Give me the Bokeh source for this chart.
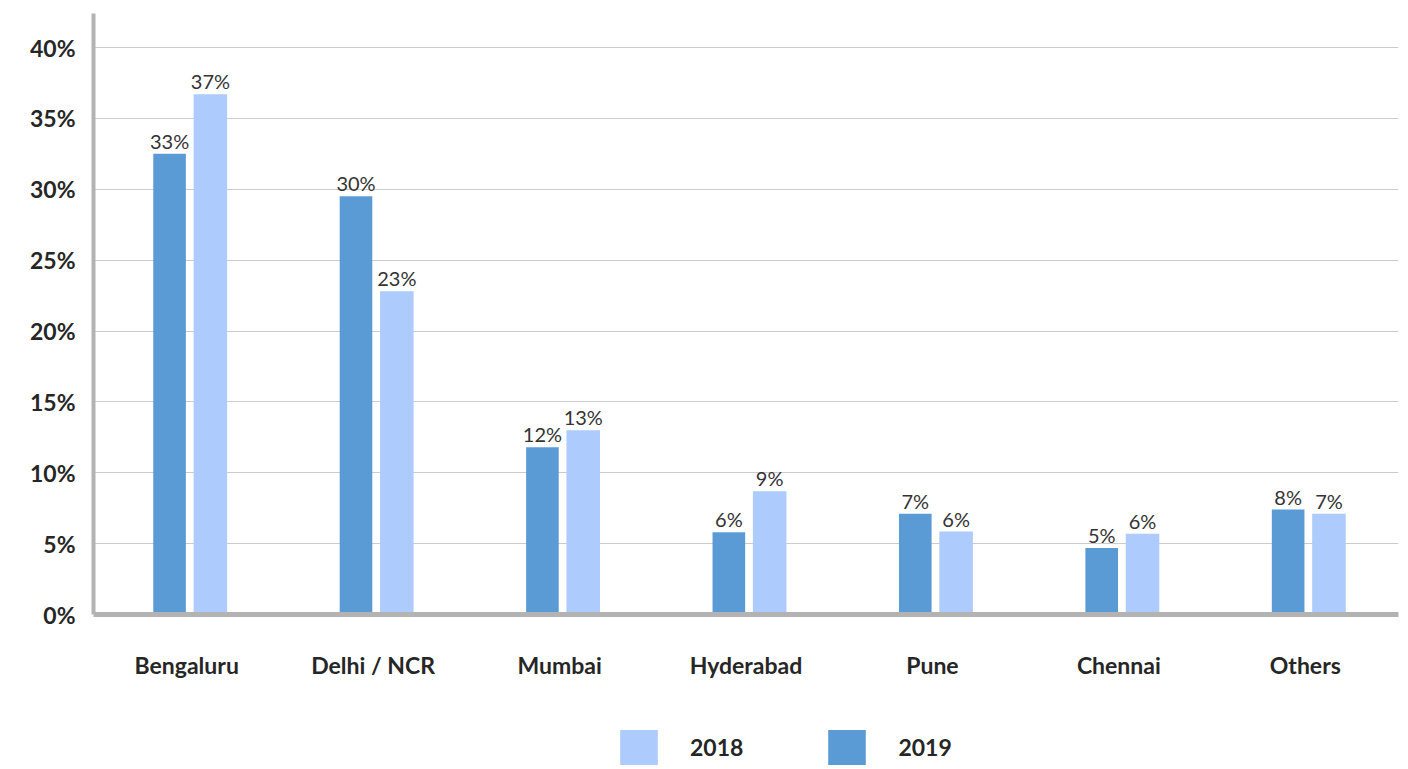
from bokeh.plotting import figure
from bokeh.layouts import column
from bokeh.models import ColumnDataSource, FactorRange, Legend, LegendItem, FixedTicker, CustomJSTickFormatter
from bokeh.transform import dodge
from bokeh.core.properties import value
from bokeh.embed import file_html
from bokeh.resources import INLINE

cities = ["Bengaluru", "Delhi / NCR", "Mumbai", "Hyderabad", "Pune", "Chennai", "Others"]
v2019 = [32.5, 29.5, 11.8, 5.8, 7.1, 4.7, 7.4]
v2018 = [36.7, 22.8, 13.0, 8.7, 5.85, 5.7, 7.1]
lab2019 = ["33%", "30%", "12%", "6%", "7%", "5%", "8%"]
lab2018 = ["37%", "23%", "13%", "9%", "6%", "6%", "7%"]
yticks = [0, 5, 10, 15, 20, 25, 30, 35, 40]
series = ["2018", "2019"]

src = ColumnDataSource(dict(city=cities, v2019=v2019, v2018=v2018, l2019=lab2019, l2018=lab2018))

C19 = "#5B9BD5"
C18 = "#ADCBFD"
FONT = "Lato"

p = figure(x_range=FactorRange(*cities, range_padding=0), y_range=(0, 42.4),
           frame_width=1305, frame_height=601, output_backend="svg", toolbar_location=None,
           min_border_left=93, min_border_top=13, min_border_right=10, min_border_bottom=111)
p.outline_line_color = None

r19 = p.vbar(x=dodge("city", -0.092, range=p.x_range), top="v2019", width=0.175, source=src,
             fill_color=C19, line_color=None)
r18 = p.vbar(x=dodge("city", 0.127, range=p.x_range), top="v2018", width=0.18, source=src,
             fill_color=C18, line_color=None)

p.text(x=dodge("city", -0.092, range=p.x_range), y="v2019", text="l2019", source=src,
       text_align="center", text_baseline="bottom", y_offset=-1,
       text_font=value(FONT), text_font_size="20px", text_color="#333333")
p.text(x=dodge("city", 0.127, range=p.x_range), y="v2018", text="l2018", source=src,
       text_align="center", text_baseline="bottom", y_offset=-1,
       text_font=value(FONT), text_font_size="20px", text_color="#333333")

p.yaxis.ticker = FixedTicker(ticks=yticks)
p.yaxis.formatter = CustomJSTickFormatter(code="return tick + '%';")
p.yaxis.axis_line_color = "#B3B3B3"
p.yaxis.axis_line_width = 4
p.yaxis.major_tick_line_color = None
p.yaxis.minor_tick_line_color = None
p.yaxis.major_tick_out = 0
p.yaxis.major_tick_in = 0
p.yaxis.major_label_text_font = FONT
p.yaxis.major_label_text_font_size = "23px"
p.yaxis.major_label_text_font_style = "bold"
p.yaxis.major_label_text_color = "#262626"
p.yaxis.major_label_standoff = 18

p.xaxis.axis_line_color = "#B3B3B3"
p.xaxis.axis_line_width = 5
p.xaxis.major_tick_line_color = None
p.xaxis.minor_tick_line_color = None
p.xaxis.major_tick_out = 0
p.xaxis.major_tick_in = 0
p.xaxis.major_label_text_font = FONT
p.xaxis.major_label_text_font_size = "23px"
p.xaxis.major_label_text_font_style = "bold"
p.xaxis.major_label_text_color = "#262626"
p.xaxis.major_label_standoff = 36

p.xgrid.grid_line_color = None
p.ygrid.grid_line_color = "#CCCCCC"
p.ygrid.grid_line_width = 1

# legend strip below the chart (proxy glyphs sit outside the visible range)
lg = figure(width=1408, height=44, x_range=(0, 1), y_range=(0, 1), output_backend="svg",
            toolbar_location=None, x_axis_location=None, y_axis_location=None,
            min_border=0, min_border_left=0, min_border_right=0, min_border_top=0, min_border_bottom=0)
lg.outline_line_color = None
lg.xgrid.visible = False
lg.ygrid.visible = False
proxy = ColumnDataSource(dict(x=[-10], top=[-10]))
d18 = lg.vbar(x="x", top="top", width=0.1, source=proxy, fill_color=C18, line_color=None)
d19 = lg.vbar(x="x", top="top", width=0.1, source=proxy, fill_color=C19, line_color=None)

legend = Legend(items=[LegendItem(label=series[0], renderers=[d18]), LegendItem(label=series[1], renderers=[d19])],
                orientation="horizontal", location=(522, 0),
                glyph_width=47, glyph_height=44, label_standoff=28, spacing=80,
                label_text_font=FONT, label_text_font_size="23px", label_text_font_style="bold",
                label_text_color="#262626", border_line_color=None, background_fill_alpha=0,
                padding=0, margin=0)
lg.add_layout(legend, "center")

layout = column(p, lg, spacing=0)
open("out.html", "w").write(file_html(layout, INLINE))
